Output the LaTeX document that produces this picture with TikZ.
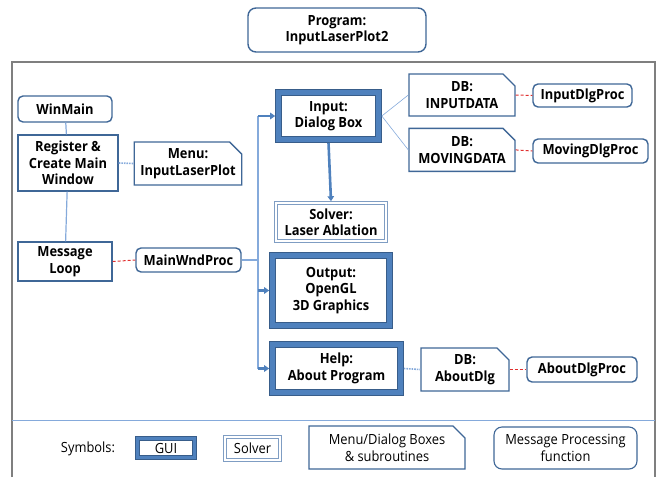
\documentclass[tikz,border=0pt]{standalone}
\usepackage{fontspec}
\setmainfont{Open Sans}[FakeStretch=0.92]
\usetikzlibrary{positioning, arrows.meta, shapes.misc}
\definecolor{boxBlue}{HTML}{3F6797}
\definecolor{guiBlue}{HTML}{4F81BD}
\definecolor{guiDark}{HTML}{385D8A}
\definecolor{solverEdge}{HTML}{7F9DC3}
\definecolor{lineBlue}{HTML}{85AADB}
\definecolor{frameGray}{HTML}{7F7F7F}
\definecolor{msgRed}{HTML}{E0302F}

\begin{document}
\begin{tikzpicture}[
    x=1pt, y=-1pt,
    >={Triangle[length=5pt,width=6.5pt]},
    every node/.style={font=\fontsize{14}{16.5}\selectfont\bfseries, align=center, inner sep=0pt},
    legend/.style={font=\fontsize{14}{16.5}\selectfont},
    base/.style={draw=boxBlue, line width=1.4pt, fill=white},
    rbox/.style={base, rectangle},
    proc/.style={base, rounded corners=5pt},
    dbox/.style={base, chamfered rectangle, chamfered rectangle corners=north east,
                 chamfered rectangle xsep=6pt, chamfered rectangle ysep=6pt},
    gui/.style={draw=guiDark, double=guiBlue, double distance=5pt, line width=0.8pt, fill=white, outer sep=3.3pt},
    solver/.style={draw=solverEdge, double=white, double distance=2pt, line width=0.8pt, fill=white, outer sep=1.8pt},
    link/.style={draw=lineBlue, line width=1.2pt},
    dotlink/.style={draw=lineBlue, line width=1.6pt, densely dotted},
    msglink/.style={draw=msgRed, line width=1pt, dash pattern=on 3pt off 2pt},
    call/.style={draw=guiBlue, line width=2.6pt, ->}
]
    \useasboundingbox (0,0) rectangle (661,477);

    % Frame and separator
    \draw[frameGray, line width=1.5pt] (12,477) -- (12,62) -- (655,62) -- (655,477);
    \draw[lineBlue, line width=1pt] (12,420) -- (655,420);

    % Program title
    \node[proc, rounded corners=8pt, minimum width=178pt, minimum height=44pt] (Prog) at (337,30) {Program:\\InputLaserPlot2};

    % Main window column
    \node[proc, minimum width=94pt, minimum height=26pt] (WinMain) at (65,109) {WinMain};
    \node[rbox, minimum width=100pt, minimum height=56pt] (Register) at (68,163) {Register \&\\Create Main\\Window};
    \node[rbox, minimum width=94pt, minimum height=39pt] (MsgLoop) at (65,261.5) {Message\\Loop};
    \node[dbox, minimum width=106pt, minimum height=43pt] (Menu) at (188,163.5) {Menu:\\InputLaserPlot};
    \node[proc, minimum width=105pt, minimum height=24pt] (MainWnd) at (188.5,260) {MainWndProc};

    % GUI and solver boxes
    \node[gui, minimum width=100pt, minimum height=47pt] (Input) at (328.5,116) {Input:\\Dialog Box};
    \node[solver, minimum width=110pt, minimum height=38pt] (Solver) at (331,222) {Solver:\\Laser Ablation};
    \node[gui, minimum width=117pt, minimum height=70pt] (Output) at (331,290.5) {Output:\\OpenGL\\3D Graphics};
    \node[gui, minimum width=128pt, minimum height=48pt] (Help) at (336.5,368.5) {Help:\\About Program};

    % Dialog boxes and their procedures
    \node[dbox, minimum width=106pt, minimum height=42pt] (DBInput) at (462,95) {DB:\\INPUTDATA};
    \node[dbox, minimum width=106pt, minimum height=43pt, below=11pt of DBInput] (DBMoving) {DB:\\MOVINGDATA};
    \node[dbox, minimum width=88pt, minimum height=43pt] (DBAbout) at (465,369.5) {DB:\\AboutDlg};
    \node[proc, minimum width=99pt, minimum height=23pt] (InputProc) at (582.5,95.5) {InputDlgProc};
    \node[proc, minimum width=115pt, minimum height=24pt] (MovingProc) at (590.5,151) {MovingDlgProc};
    \node[proc, minimum width=110pt, minimum height=25pt] (AboutProc) at (582,369.5) {AboutDlgProc};

    % Symbols
    \node[legend] (SymText) at (88,449) {Symbols:};
    \node[gui, draw=guiDark, line width=0.7pt, double distance=3.5pt, minimum width=57pt, minimum height=19pt, legend] (SymGui) at (166,448) {GUI};
    \node[solver, minimum width=55pt, minimum height=23pt, legend] (SymSolver) at (252.5,448.5) {Solver};
    \node[dbox, line width=1.1pt, minimum width=156pt, minimum height=43pt, legend] (SymDB) at (387,447.5) {Menu/Dialog Boxes\\\& subroutines};
    \node[proc, line width=1.1pt, rounded corners=8pt, minimum width=143pt, minimum height=42pt, legend] (SymProc) at (565.5,448) {Message Processing\\function};

    % Bus from MainWndProc
    \coordinate (BusTop) at (258,116);
    \coordinate (BusBot) at (258,368.5);
    \draw[link] (WinMain) -- (Register) -- (MsgLoop);
    \draw[dotlink] (Register.east) -- (Menu.west);
    \draw[msglink] (MsgLoop.east) -- (MainWnd.west);
    \draw[link] (MainWnd.east) -- (MainWnd.east -| BusTop);
    \draw[link] (BusTop) -- (BusBot);
    \draw[call] (BusTop) -- (Input.west);
    \draw[call] (Output.west -| BusTop) -- (Output.west);
    \draw[call] (BusBot) -- (Help.west);
    \draw[call] (Input.south) -- (Solver.north);

    % Dialog links
    \draw[link, line width=0.6pt] (Input.east) -- (DBInput.west);
    \draw[link, line width=0.6pt] (Input.east) -- (DBMoving.west);
    \draw[dotlink] (Help.east) -- (DBAbout.west);
    \draw[msglink] (DBInput.east) -- (InputProc.west);
    \draw[msglink] (DBMoving.east) -- (MovingProc.west);
    \draw[msglink] (DBAbout.east) -- (AboutProc.west);
\end{tikzpicture}
\end{document}
